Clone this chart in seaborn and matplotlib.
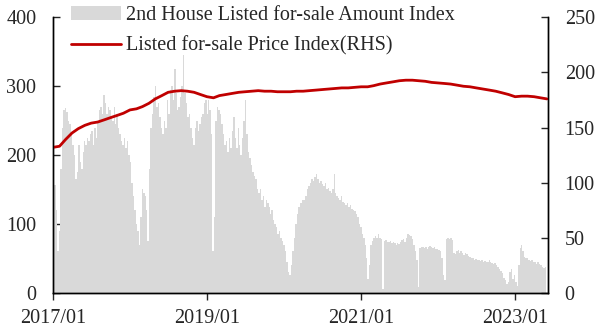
import numpy as np
import pandas as pd
import seaborn as sns
import matplotlib
matplotlib.use("Agg")
import matplotlib.pyplot as plt
import matplotlib.dates as mdates
from matplotlib.patches import Patch
from matplotlib.lines import Line2D

# weekly listed for-sale amount index (left axis)
amount_2017 = [150, 156, 120, 60, 90, 180, 240, 265, 268, 262, 250, 245, 230, 215,
               200, 165, 175, 215, 190, 180, 205, 220, 215, 225, 220, 230, 235, 215,
               240, 225, 250, 265, 270, 260, 287, 275, 260, 270, 265, 255, 250, 270,
               245, 260, 240, 230, 220, 215, 225, 210, 220, 200]
amount_2018 = [190, 160, 140, 120, 100, 90, 70, 110, 150, 145, 140, 120, 75, 180,
               240, 260, 285, 300, 270, 275, 255, 240, 230, 250, 240, 280, 260, 295,
               300, 280, 325, 290, 265, 270, 285, 300, 345, 290, 275, 255, 260, 240,
               225, 215, 240, 250, 235, 245, 255, 260, 275, 280]
amount_2019 = [260, 280, 265, 230, 60, 110, 250, 270, 265, 260, 245, 230, 215, 220,
               205, 225, 210, 235, 255, 225, 210, 240, 215, 200, 225, 250, 280, 230,
               205, 195, 185, 175, 170, 165, 150, 145, 150, 135, 140, 125, 135, 130,
               125, 115, 120, 105, 100, 95, 85, 90, 80, 75]
amount_2020 = [70, 60, 45, 30, 25, 40, 60, 80, 100, 115, 125, 130, 130, 135,
               135, 140, 150, 155, 160, 165, 162, 168, 172, 165, 160, 163, 158, 155,
               160, 150, 152, 148, 145, 150, 172, 145, 140, 138, 135, 140, 132, 130,
               128, 130, 125, 128, 122, 120, 118, 115, 110, 100]
amount_2021 = [95, 85, 80, 70, 50, 20, 40, 70, 75, 80, 82, 80, 85, 80,
               78, 5, 75, 76, 74, 73, 75, 72, 74, 72, 70, 72, 71, 73,
               76, 78, 74, 80, 85, 84, 82, 78, 70, 60, 48, 8, 65, 67,
               66, 65, 67, 64, 66, 68, 67, 65, 66, 63]
amount_2022 = [64, 62, 60, 50, 25, 18, 78, 80, 78, 80, 76, 58, 56, 60,
               62, 58, 60, 57, 55, 58, 56, 54, 52, 50, 50, 48, 49, 47,
               48, 46, 47, 45, 46, 44, 45, 47, 44, 43, 42, 43, 40, 38,
               35, 32, 28, 22, 18, 12, 15, 30, 35, 20]
amount_2023 = [25, 15, 10, 40, 65, 70, 60, 52, 50, 50, 48, 46, 47, 45,
               44, 42, 44, 42, 40, 38, 36, 38]

# monthly listed for-sale price index (right axis)
price_2017 = [132, 133, 139, 145, 149, 152, 154, 155, 157, 159, 161, 163]
price_2018 = [166, 167, 169, 172, 176, 179, 182, 183, 183.5, 183, 182, 180]
price_2019 = [178, 177, 179, 180, 181, 182, 182.5, 183, 183.5, 183, 183, 182.5]
price_2020 = [182.5, 182.5, 183, 183, 183.5, 184, 184.5, 185, 185.5, 186, 186, 186.5]
price_2021 = [187, 187, 188, 189.5, 190.5, 191.5, 192.5, 193, 193, 192.5, 192, 191]
price_2022 = [190.5, 190, 189.5, 188.5, 187.5, 187, 186, 185, 184, 183, 181.5, 180]
price_2023 = [178, 178.5, 178.5, 178, 177, 176]

x_ticks = ["2017-01-01", "2019-01-01", "2021-01-01", "2023-01-01"]

amount = (amount_2017 + amount_2018 + amount_2019 + amount_2020
          + amount_2021 + amount_2022 + amount_2023)
price = (price_2017 + price_2018 + price_2019 + price_2020
         + price_2021 + price_2022 + price_2023)

weeks = pd.date_range("2017-01-01", periods=len(amount), freq="7D")
months = pd.date_range("2017-01-01", periods=len(price), freq="MS")
df_price = pd.DataFrame({"date": months, "price": price})

sns.set_style("ticks")
plt.rcParams["font.family"] = ["Liberation Serif", "DejaVu Serif"]
fs = 14.5

fig = plt.figure(figsize=(6.07, 3.29), dpi=100)
ax = fig.add_axes([0.0873, 0.1104, 0.8155, 0.8366])
ax2 = ax.twinx()

bar_color = "#d9d9d9"
line_color = "#c00000"

ax.bar(weeks, amount, width=7, color=bar_color, linewidth=0, align="edge")
sns.lineplot(data=df_price, x="date", y="price", ax=ax2, color=line_color, linewidth=2)

ax.set_xlim(pd.Timestamp("2017-01-01"), pd.Timestamp("2023-06-06"))
ax.set_ylim(0, 400)
ax.set_yticks([0, 100, 200, 300, 400])
ax2.set_ylim(0, 250)
ax2.set_yticks([0, 50, 100, 150, 200, 250])

ax.set_xticks(pd.to_datetime(x_ticks))
ax.xaxis.set_major_formatter(mdates.DateFormatter("%Y/%m"))

ax.set_xlabel("")
ax.set_ylabel("")
ax2.set_xlabel("")
ax2.set_ylabel("")

for a in (ax, ax2):
    a.spines["top"].set_visible(False)
    for s in a.spines.values():
        s.set_linewidth(1.0)
        s.set_color("black")
ax.tick_params(axis="x", direction="out", length=5, width=1, pad=7, labelsize=fs)
ax.tick_params(axis="y", direction="in", length=5, width=1, pad=12, labelsize=fs)
ax2.tick_params(axis="y", direction="in", length=5, width=1, pad=12, labelsize=fs)

handles = [Patch(facecolor=bar_color, edgecolor="none"),
           Line2D([0], [0], color=line_color, linewidth=2)]
labels = ["2nd House Listed for-sale Amount Index", "Listed for-sale Price Index(RHS)"]
fig.legend(handles, labels, loc="upper left", bbox_to_anchor=(0.113, 0.987),
           frameon=False, borderpad=0.1, borderaxespad=0, handlelength=2.5,
           handletextpad=0.25, labelspacing=0.55, fontsize=fs)

fig.savefig("out.png", dpi=100)
